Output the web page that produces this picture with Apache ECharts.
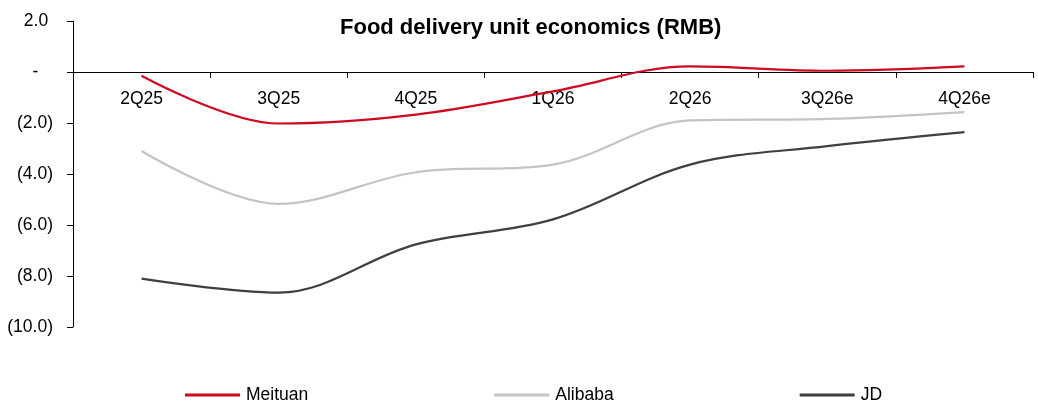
<!DOCTYPE html>
<html>
<head>
<meta charset="utf-8">
<script src="https://cdn.jsdelivr.net/npm/echarts@6/dist/echarts.min.js"></script>
<style>
  html, body { margin: 0; padding: 0; background: #fff; }
  #chart { width: 1038px; height: 409px; }
</style>
</head>
<body>
<div id="chart"></div>
<script>
var quarters = ['2Q25', '3Q25', '4Q25', '1Q26', '2Q26', '3Q26e', '4Q26e'];
var meituan = [-0.15, -2.02, -1.67, -0.76, 0.22, 0.05, 0.22];
var alibaba = [-3.1, -5.17, -3.93, -3.63, -1.9, -1.84, -1.57];
var jd = [-8.1, -8.65, -6.76, -5.78, -3.63, -2.91, -2.36];

var yMin = -10, yMax = 2;
var gridTop = 21, gridBottom = 82;

var chart = echarts.init(document.getElementById('chart'));

// excel style: 0 as dash, negatives in brackets
function fmtY(v) {
    if (v === 0) return '-   ';
    if (v < 0) return '(' + Math.abs(v).toFixed(1) + ')';
    return v.toFixed(1) + ' ';
}

function line(name, data, color) {
    return {
        name: name,
        type: 'line',
        data: data,
        smooth: 0.35,
        symbol: 'none',
        lineStyle: { color: color, width: 2.2 },
        itemStyle: { color: color }
    };
}

// move the category axis (line, ticks and labels) up to the zero line
var plotH = 409 - gridTop - gridBottom;
var zeroOffset = -plotH * (0 - yMin) / (yMax - yMin);

var options = {
    animation: false,
    textStyle: { fontFamily: 'Liberation Sans' },
    title: {
        text: 'Food delivery unit economics (RMB)',
        left: 335,
        top: 12,
        textStyle: { fontSize: 22, fontWeight: 'bold', color: '#000', fontFamily: 'Liberation Sans' }
    },
    legend: {
        bottom: 0,
        left: 180,
        itemGap: 186,
        itemWidth: 55,
        itemHeight: 3,
        icon: 'rect',
        textStyle: { fontSize: 17.5, color: '#000', padding: [0, 0, 0, 1] },
        data: ['Meituan', 'Alibaba', 'JD']
    },
    grid: { left: 73, right: 5, top: gridTop, bottom: gridBottom },
    xAxis: {
        type: 'category',
        data: quarters,
        boundaryGap: true,
        offset: zeroOffset,
        axisLine: { onZero: false, lineStyle: { color: '#000', width: 1 } },
        axisTick: { show: true, length: 6, lineStyle: { color: '#000' } },
        axisLabel: { fontSize: 17.5, color: '#000', margin: 18 },
        splitLine: { show: false }
    },
    yAxis: {
        type: 'value',
        min: yMin,
        max: yMax,
        interval: 2,
        axisLine: { show: true, lineStyle: { color: '#000', width: 1 } },
        axisTick: { show: true, length: 6, lineStyle: { color: '#000' } },
        axisLabel: { fontSize: 17.5, color: '#000', margin: 20, formatter: fmtY },
        splitLine: { show: false }
    },
    series: [
        line('Meituan', meituan, '#cc0a21'),
        line('Alibaba', alibaba, '#c4c4c4'),
        line('JD', jd, '#3f3f3f')
    ]
};

chart.setOption(options);
</script>
</body>
</html>
